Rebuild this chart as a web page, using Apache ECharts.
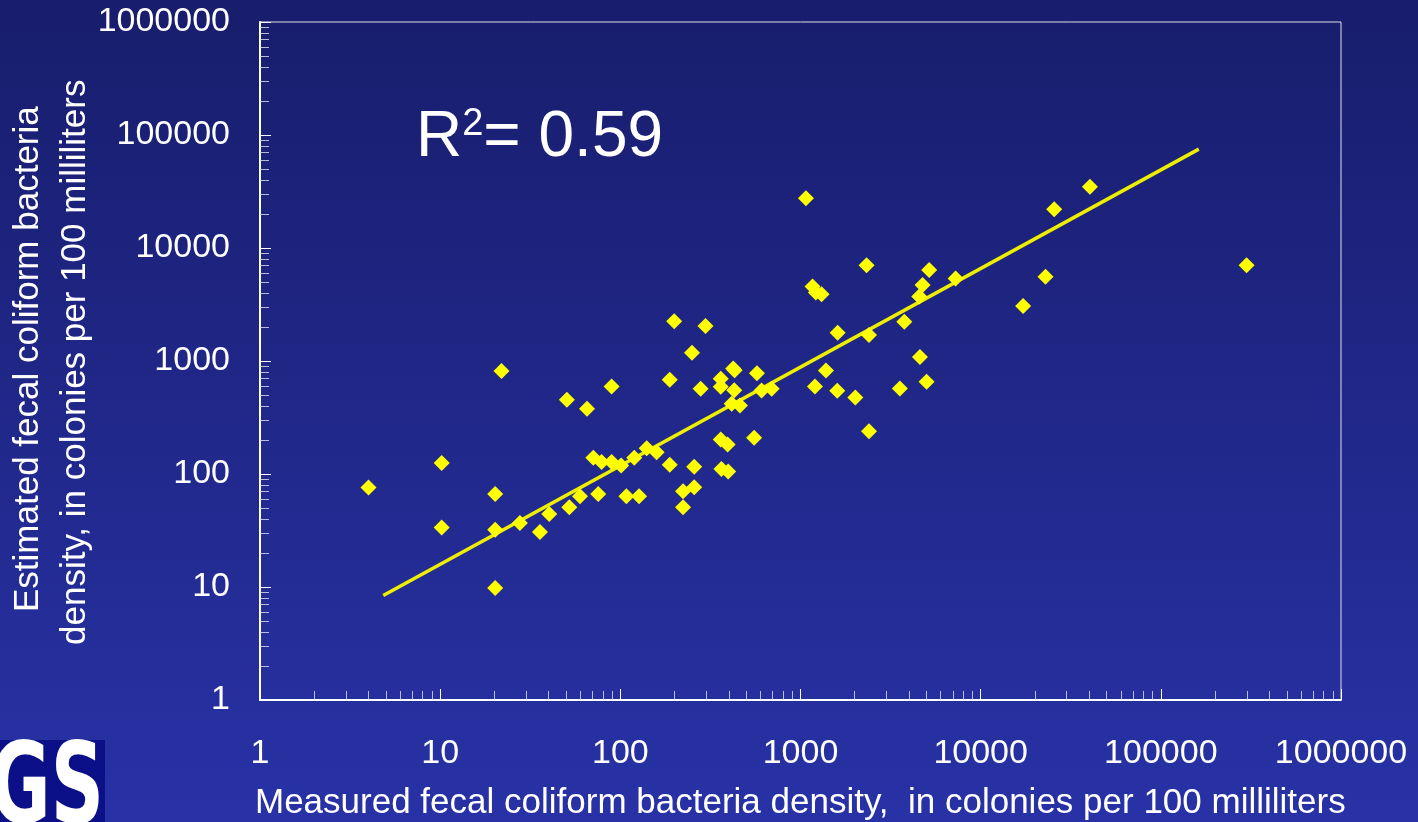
<!DOCTYPE html>
<html>
<head>
<meta charset="utf-8">
<script src="https://cdn.jsdelivr.net/npm/echarts@6/dist/echarts.min.js"></script>
<style>
html,body{margin:0;padding:0;width:1418px;height:822px;overflow:hidden;}
#c{width:1418px;height:822px;}
</style>
</head>
<body>
<div id="c"></div>
<script>
// Measured vs estimated fecal coliform density (colonies per 100 mL)
const measured = [4,10.2,10.2,20.2,20.2,20.2,21.9,27.7,35.8,40.3,50.5,52.1,59.7,65.3,70.8,75.4,78.7,89.5,101,89.5,108,127,119.5,140,159,188,188,199,223,223,250,257,257,279,297,361,361,361,394,364,397,423,431,429,415,461,553,573,608,692,
  1072,2326,5180,1167,1217,1309,4760,4560,7260,3770,1607,2400,4600,1384,1203,1600,2014,3560,5010,2400,40400,25600,299000,22900,17200];
const estimated = [76,125,33.7,66.6,32.1,9.8,814,36.9,30.7,44.2,454,50.7,63.4,378,139,66.6,128,128,119,596,63.4,63.4,139,169,156,682,121,2244,70.3,50.7,1186,116,76.2,568,2038,697,592,202,182,111,105,860,830,552,418,404,209,781,549,568,
  27600,7040,6400,4560,4030,3890,4710,3716,5370,2230,1782,1700,1083,826,596,545,476,572,655,239,34800,22080,7040,5580,3070];
const fitX = [4.83, 162500];
const fitY = [8.4, 75000];
const tickLabels = ['1','10','100','1000','10000','100000','1000000'];
const xName = 'Measured fecal coliform bacteria density,  in colonies per 100 milliliters';
const yName1 = 'Estimated fecal coliform bacteria';
const yName2 = 'density, in colonies per 100 milliliters';
const rSquared = '0.59';

const points = measured.map((m, i) => [m, estimated[i]]);
const fitLine = fitX.map((x, i) => [x, fitY[i]]);

const FONT = '"Liberation Sans", Arial, sans-serif';
const fmt = v => {
  const r = Math.round(Math.log10(v));
  return tickLabels[r] !== undefined && Math.abs(Math.log10(v) - r) < 1e-6 ? tickLabels[r] : '';
};

const axisCommon = {
  type: 'log', logBase: 10, min: 1, max: 1000000,
  axisLine: { show: true, lineStyle: { color: '#ffffff', width: 2 } },
  axisTick: { show: true, inside: true, length: 11, lineStyle: { color: '#ffffff', width: 1 } },
  minorTick: { show: true, splitNumber: 9, length: 9, lineStyle: { color: 'rgba(225,225,240,0.8)', width: 1 } },
  splitLine: { show: false },
  minorSplitLine: { show: false },
  axisLabel: { color: '#ffffff', fontSize: 34, fontFamily: FONT, formatter: fmt }
};

const chart = echarts.init(document.getElementById('c'));
chart.setOption({
  backgroundColor: {
    type: 'linear', x: 0, y: 0, x2: 0, y2: 1,
    colorStops: [{ offset: 0, color: '#181d6c' }, { offset: 1, color: '#2832a6' }]
  },
  animation: false,
  grid: { left: 260, right: 77, top: 22, bottom: 122, show: true, borderColor: '#e0e0ea', borderWidth: 1, backgroundColor: 'transparent' },
  xAxis: Object.assign({}, axisCommon, {
    axisLabel: Object.assign({}, axisCommon.axisLabel, { margin: 37 })
  }),
  yAxis: Object.assign({}, axisCommon, {
    axisLabel: Object.assign({}, axisCommon.axisLabel, { margin: 30 })
  }),
  series: [
    {
      type: 'line', data: fitLine, symbol: 'none', z: 2,
      lineStyle: { color: '#eeee00', width: 3.5 }
    },
    {
      type: 'scatter', data: points, symbol: 'diamond', symbolSize: 16, z: 3,
      itemStyle: { color: '#ffff00', opacity: 1 }
    }
  ],
  graphic: [
    { type: 'text', left: 255, top: 786, style: { text: xName, fill: '#ffffff', font: '35px ' + FONT } },
    { type: 'text', x: 28, y: 612, rotation: Math.PI / 2,
      style: { text: yName1, fill: '#ffffff', font: '35px ' + FONT, textAlign: 'left', textVerticalAlign: 'middle' } },
    { type: 'text', x: 75, y: 645, rotation: Math.PI / 2,
      style: { text: yName2, fill: '#ffffff', font: '35px ' + FONT, textAlign: 'left', textVerticalAlign: 'middle' } },
    { type: 'text', x: 416, y: 138, z: 10,
      style: {
        text: '{r|R}{s|2}{r|= ' + rSquared + '}',
        textVerticalAlign: 'middle',
        rich: {
          r: { fontSize: 64, fontFamily: FONT, fill: '#ffffff', textShadowColor: '#000000', textShadowOffsetX: 3, textShadowOffsetY: 3, textShadowBlur: 0, verticalAlign: 'bottom' },
          s: { fontSize: 38, fontFamily: FONT, fill: '#ffffff', textShadowColor: '#000000', textShadowOffsetX: 2, textShadowOffsetY: 2, textShadowBlur: 0, verticalAlign: 'top', padding: [0, 0, 26, 0] }
        }
      } },
    { type: 'rect', shape: { x: 0, y: 740, width: 105, height: 82 }, style: { fill: '#0b1088' } },
    { type: 'text', x: -10, y: 737, scaleX: 0.66,
      style: { text: 'GS', fill: '#ffffff', font: '900 112px "DejaVu Sans", sans-serif', textAlign: 'left', textVerticalAlign: 'top' } }
  ]
});
</script>
</body>
</html>
